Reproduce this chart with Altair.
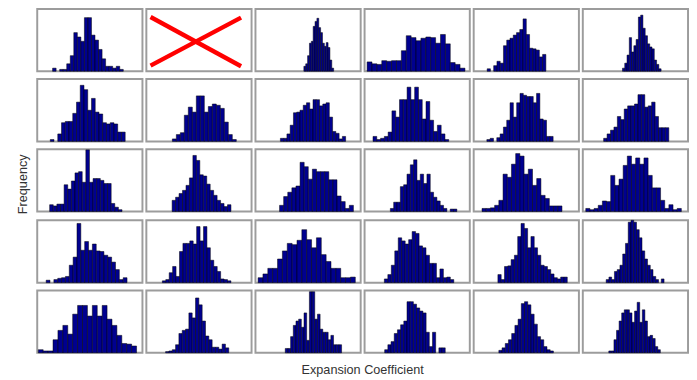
import altair as alt
import pandas as pd

# ---------------- data ----------------
X_TITLE = "Expansion Coefficient"
Y_TITLE = "Frequency"

# each panel: start of first bin (fraction of panel's x range), bin width, bar heights (% of panel height)
S11, B11, H11 = 0.146, 0.0336, [5, 0, 3, 3, 12, 25, 62, 55, 48, 86, 86, 58, 50, 35, 20, 8, 8, 5, 8, 3]
S12, B12, H12 = 0.0, 0.05, []
S13, B13, H13 = 0.46, 0.0177, [8, 12, 25, 45, 48, 72, 80, 85, 70, 62, 45, 40, 46, 38, 18, 5]
S14, B14, H14 = 0.024, 0.0465, [15, 12, 11, 17, 16, 17, 17, 33, 57, 54, 49, 53, 55, 54, 45, 59, 44, 14, 11, 5]
S15, B15, H15 = 0.128, 0.031, [4, 0, 9, 16, 13, 41, 50, 53, 58, 62, 67, 84, 59, 37, 36, 34, 23, 27]
S16, B16, H16 = 0.377, 0.0216, [5, 13, 26, 54, 31, 41, 51, 87, 90, 69, 57, 44, 39, 36, 18, 11, 4]

S21, B21, H21 = 0.124, 0.0356, [3, 0, 12, 30, 32, 32, 45, 63, 90, 83, 50, 69, 47, 44, 30, 28, 30, 28, 15, 15]
S22, B22, H22 = 0.247, 0.038, [4, 11, 14, 42, 55, 47, 73, 73, 47, 56, 60, 58, 53, 31, 11, 3]
S23, B23, H23 = 0.237, 0.031, [5, 5, 12, 26, 46, 47, 50, 58, 62, 52, 67, 67, 57, 60, 62, 39, 16, 13, 4, 8]
S24, B24, H24 = 0.08, 0.036, [8, 3, 5, 8, 15, 49, 39, 67, 67, 87, 67, 87, 67, 36, 64, 34, 16, 26, 12, 3]
S25, B25, H25 = 0.125, 0.0315, [3, 5, 0, 6, 12, 23, 34, 62, 39, 62, 77, 74, 72, 72, 62, 77, 36, 34, 8, 8]
S26, B26, H26 = 0.198, 0.0326, [5, 12, 18, 23, 40, 35, 52, 57, 57, 60, 75, 75, 55, 57, 63, 40, 22, 22, 22]

S31, B31, H31 = 0.118, 0.0344, [11, 9, 12, 12, 43, 36, 49, 62, 64, 47, 99, 47, 53, 53, 50, 45, 45, 13, 7, 3]
S32, B32, H32 = 0.245, 0.0329, [18, 23, 29, 34, 42, 54, 90, 82, 59, 57, 44, 34, 26, 18, 13, 8, 11]
S33, B33, H33 = 0.229, 0.039, [10, 24, 31, 38, 41, 79, 72, 52, 68, 64, 64, 64, 51, 51, 25, 16, 5, 10]
S34, B34, H34 = 0.245, 0.0316, [5, 15, 15, 40, 43, 60, 75, 83, 50, 60, 45, 60, 31, 23, 17, 10, 5, 0, 4, 4]
S35, B35, H35 = 0.079, 0.04, [5, 5, 6, 10, 18, 60, 55, 76, 93, 89, 60, 68, 42, 53, 26, 21, 9, 9, 9]
S36, B36, H36 = 0.028, 0.0395, [5, 3, 5, 10, 17, 16, 58, 42, 52, 74, 89, 76, 86, 76, 86, 58, 38, 38, 18, 5, 11, 3, 5]

S41, B41, H41 = 0.085, 0.0366, [4, 0, 5, 7, 8, 10, 28, 41, 95, 52, 66, 52, 62, 51, 50, 44, 41, 33, 21, 5, 8]
S42, B42, H42 = 0.152, 0.0326, [3, 5, 16, 26, 10, 50, 63, 63, 67, 62, 90, 67, 90, 56, 36, 26, 18, 6, 5, 3]
S43, B43, H43 = 0.025, 0.0462, [8, 14, 23, 23, 38, 51, 63, 61, 68, 85, 69, 56, 72, 45, 34, 23, 23, 8, 8, 9]
S44, B44, H44 = 0.188, 0.033, [6, 13, 28, 51, 72, 67, 62, 69, 82, 79, 59, 56, 44, 31, 31, 8, 22, 8, 9, 5]
S45, B45, H45 = 0.23, 0.0314, [13, 5, 26, 27, 37, 44, 74, 95, 87, 56, 74, 56, 44, 28, 26, 21, 14, 8, 6, 9, 9]
S46, B46, H46 = 0.222, 0.0262, [5, 9, 5, 18, 21, 28, 46, 63, 97, 100, 97, 85, 72, 51, 38, 28, 21, 10, 5, 0, 6]

S51, B51, H51 = 0.01, 0.0467, [5, 3, 3, 21, 36, 44, 30, 62, 76, 76, 59, 76, 59, 76, 54, 44, 28, 15, 14, 11]
S52, B52, H52 = 0.183, 0.0316, [2, 3, 5, 13, 31, 36, 38, 64, 56, 88, 77, 51, 27, 21, 9, 9, 6, 14, 8]
S53, B53, H53 = 0.283, 0.0255, [7, 7, 26, 44, 51, 54, 41, 64, 20, 98, 98, 54, 62, 38, 33, 33, 21, 28, 13, 13, 13]
S54, B54, H54 = 0.191, 0.0303, [5, 13, 18, 31, 37, 45, 51, 82, 82, 78, 72, 67, 64, 33, 10, 33, 0, 8, 8]
S55, B55, H55 = 0.239, 0.0305, [4, 8, 15, 21, 31, 44, 54, 79, 82, 77, 62, 46, 26, 21, 10, 5, 3]
S56, B56, H56 = 0.247, 0.0245, [3, 3, 21, 36, 51, 64, 69, 69, 64, 49, 67, 81, 49, 69, 51, 26, 28, 23, 10, 5]

# red cross over the empty panel (row 1, column 2)
CROSS_X0 = [0.04, 0.04]
CROSS_X1 = [0.90, 0.90]
CROSS_Y0 = [87, 9]
CROSS_Y1 = [8, 86]

PANELS = [
    [(S11, B11, H11), (S12, B12, H12), (S13, B13, H13), (S14, B14, H14), (S15, B15, H15), (S16, B16, H16)],
    [(S21, B21, H21), (S22, B22, H22), (S23, B23, H23), (S24, B24, H24), (S25, B25, H25), (S26, B26, H26)],
    [(S31, B31, H31), (S32, B32, H32), (S33, B33, H33), (S34, B34, H34), (S35, B35, H35), (S36, B36, H36)],
    [(S41, B41, H41), (S42, B42, H42), (S43, B43, H43), (S44, B44, H44), (S45, B45, H45), (S46, B46, H46)],
    [(S51, B51, H51), (S52, B52, H52), (S53, B53, H53), (S54, B54, H54), (S55, B55, H55), (S56, B56, H56)],
]

# ---------------- chart ----------------
FILL = "#00008f"
PW, PH = 108, 64
FONT = "Liberation Sans"

XS = alt.Scale(domain=[0, 1], nice=False, zero=False)
YS = alt.Scale(domain=[0, 100], nice=False)


def hist_df(start, binw, heights):
    rows = []
    for i, h in enumerate(heights):
        if h > 0:
            rows.append({"x0": start + i * binw, "x1": start + (i + 1) * binw, "h": h, "base": 0})
    if not rows:
        rows.append({"x0": 0.0, "x1": 0.0, "h": 0, "base": 0})
    return pd.DataFrame(rows)


def panel(start, binw, heights, cross=False):
    bars = alt.Chart(hist_df(start, binw, heights)).mark_bar(
        fill=FILL, stroke="#000000", strokeWidth=0.5
    ).encode(
        x=alt.X("x0:Q", scale=XS, axis=None),
        x2="x1:Q",
        y=alt.Y("h:Q", scale=YS, axis=None),
        y2="base:Q",
    )
    if cross:
        cdf = pd.DataFrame({"x": CROSS_X0, "x2": CROSS_X1, "y": CROSS_Y0, "y2": CROSS_Y1})
        rule = alt.Chart(cdf).mark_rule(color="#ff0000", strokeWidth=4.5, strokeCap="butt").encode(
            x=alt.X("x:Q", scale=XS, axis=None),
            x2="x2:Q",
            y=alt.Y("y:Q", scale=YS, axis=None),
            y2="y2:Q",
        )
        return alt.layer(bars.mark_bar(opacity=0), rule).properties(width=PW, height=PH)
    return bars.properties(width=PW, height=PH)


rows = []
for r, row in enumerate(PANELS):
    charts = []
    for c, (s, b, h) in enumerate(row):
        charts.append(panel(s, b, h, cross=(r == 0 and c == 1)))
    rows.append(alt.hconcat(*charts, spacing=2))

grid = alt.vconcat(
    *rows,
    spacing=5,
    title=alt.TitleParams(
        X_TITLE, orient="bottom", anchor="middle", fontSize=13, fontWeight="normal",
        font=FONT, color="#333333", offset=10,
    ),
)

label = alt.Chart(pd.DataFrame({"t": [Y_TITLE]})).mark_text(
    angle=270, fontSize=13, font=FONT, color="#333333", align="center", baseline="middle"
).encode(
    text="t:N", x=alt.value(16), y=alt.value(180)
).properties(width=28, height=5 * PH + 4 * 5, view=alt.ViewBackground(strokeOpacity=0))

chart = alt.hconcat(label, grid, spacing=1).properties(
    padding={"left": 0, "top": -5, "right": 0, "bottom": 0}
).configure_view(
    stroke="#9c9c9c", strokeWidth=2
)

chart.save("out.html", embed_options={"renderer": "svg", "actions": False})
